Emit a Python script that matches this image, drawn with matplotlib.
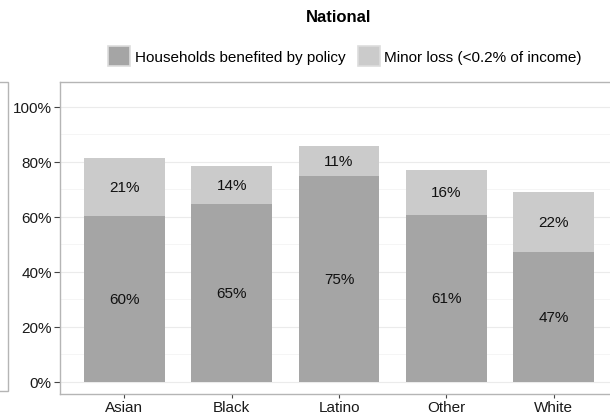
import matplotlib
matplotlib.use('Agg')
from matplotlib import pyplot as plt
from matplotlib.patches import Rectangle
from matplotlib.ticker import MultipleLocator, PercentFormatter

plt.rcParams['font.family'] = ['Liberation Sans', 'DejaVu Sans']

grupos = ['Asian', 'Black', 'Latino', 'Other', 'White']
beneficiados = [60.2, 64.6, 75.0, 60.8, 47.1]
perdida_menor = [21.3, 13.9, 10.9, 16.3, 21.8]
etiquetas_serie = ['Households benefited by policy', 'Minor loss (<0.2% of income)']

color_oscuro = '#a5a5a5'
color_claro = '#cbcbcb'
borde = '#b5b5b5'

W, H = 610, 414
fig = plt.figure(figsize=(W / 100, H / 100), dpi=100)

# panel cortado a la izquierda (otra faceta)
fig.patches.append(Rectangle((-0.1, (H - 392) / H), 0.1 + 8 / W, (392 - 83) / H,
                             transform=fig.transFigure, fill=False,
                             edgecolor=borde, linewidth=1))

ax = fig.add_axes([60 / W, (H - 395) / H, 558 / W, 312 / H])

x = range(len(grupos))
b1 = ax.bar(x, beneficiados, width=0.75, color=color_oscuro, label=etiquetas_serie[0], zorder=2)
b2 = ax.bar(x, perdida_menor, width=0.75, bottom=beneficiados, color=color_claro,
            label=etiquetas_serie[1], zorder=2)

for i in x:
  ax.text(i, beneficiados[i] / 2, f'{round(beneficiados[i])}%', ha='center', va='center',
          fontsize=11, color='#111111', zorder=3)
  ax.text(i, beneficiados[i] + perdida_menor[i] / 2, f'{round(perdida_menor[i])}%',
          ha='center', va='center', fontsize=11, color='#111111', zorder=3)

ax.set_xlim(-0.6, 4.6)
ax.set_ylim(-4.4, 109)
ax.yaxis.set_major_locator(MultipleLocator(20))
ax.yaxis.set_minor_locator(MultipleLocator(10))
ax.yaxis.set_major_formatter(PercentFormatter(decimals=0))
ax.set_xticks(list(x))
ax.set_xticklabels(grupos)
ax.grid(True, which='major', axis='y', color='#ebebeb', linewidth=0.8, zorder=0)
ax.grid(True, which='minor', axis='y', color='#f4f4f4', linewidth=0.6, zorder=0)
ax.set_axisbelow(True)
ax.tick_params(axis='y', which='major', labelsize=11, length=4, color='#444444',
               labelcolor='#1a1a1a', pad=2)
ax.tick_params(axis='x', which='major', labelsize=11, length=3, color='#444444',
               labelcolor='#1a1a1a', pad=1)
ax.tick_params(axis='y', which='minor', length=0)
for s in ax.spines.values():
  s.set_color(borde)
  s.set_linewidth(1)

fig.text(339 / W, 1 - 17 / H, 'National', ha='center', va='center', fontsize=12,
         fontweight='bold')

fig.legend(handles=[b1, b2], loc='center', bbox_to_anchor=(345 / W, 1 - 57 / H), ncol=2,
           frameon=False, fontsize=11, handlelength=1.45, handleheight=1.7,
           handletextpad=0.3, columnspacing=0.8)
for h in fig.legends[0].legend_handles:
  h.set_edgecolor('#dddddd')
  h.set_linewidth(1.2)

fig.savefig('out.png', dpi=100)
